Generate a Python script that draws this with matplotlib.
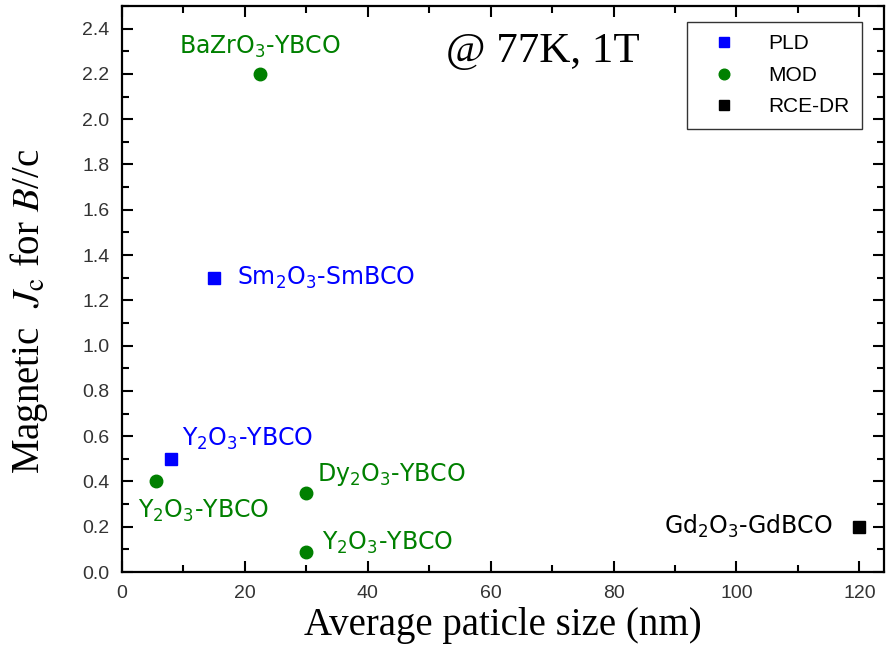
import matplotlib
matplotlib.use('Agg')
import matplotlib.pyplot as plt
from matplotlib.ticker import MultipleLocator

# data
pld_x = [8, 15]
pld_y = [0.5, 1.3]
mod_x = [5.5, 22.5, 30, 30]
mod_y = [0.40, 2.20, 0.35, 0.09]
rce_x = [120]
rce_y = [0.20]

# (text, x, y, ha, colour)
labels = [
    (r'BaZrO$\mathregular{_3}$-YBCO', 22.5, 2.32, 'center', 'green'),
    (r'Sm$\mathregular{_2}$O$\mathregular{_3}$-SmBCO', 18.7, 1.30, 'left', 'blue'),
    (r'Y$\mathregular{_2}$O$\mathregular{_3}$-YBCO', 9.8, 0.59, 'left', 'blue'),
    (r'Y$\mathregular{_2}$O$\mathregular{_3}$-YBCO', 2.6, 0.27, 'left', 'green'),
    (r'Dy$\mathregular{_2}$O$\mathregular{_3}$-YBCO', 31.7, 0.43, 'left', 'green'),
    (r'Y$\mathregular{_2}$O$\mathregular{_3}$-YBCO', 32.5, 0.13, 'left', 'green'),
    (r'Gd$\mathregular{_2}$O$\mathregular{_3}$-GdBCO', 115.6, 0.20, 'right', 'black'),
]

plt.rcParams['mathtext.fontset'] = 'stix'
plt.rcParams['font.family'] = 'Liberation Sans'

fig = plt.figure(figsize=(8.86, 6.68), dpi=100)
ax = fig.add_axes([0.1377, 0.1437, 0.8600, 0.8473])

ax.plot(pld_x, pld_y, 's', color='blue', ms=9, label='PLD')
ax.plot(mod_x, mod_y, 'o', color='green', ms=9, label='MOD')
ax.plot(rce_x, rce_y, 's', color='black', ms=8, label='RCE-DR')

for txt, x, y, ha, c in labels:
    ax.text(x, y, txt, ha=ha, va='center', color=c, fontsize=17,
            family='DejaVu Sans')

ax.text(52.8, 2.30, '@ 77K, 1T', fontsize=31, family='Liberation Serif',
        va='center', ha='left')

ax.set_xlim(0, 124)
ax.set_ylim(0, 2.5)
ax.xaxis.set_major_locator(MultipleLocator(20))
ax.xaxis.set_minor_locator(MultipleLocator(10))
ax.set_yticks([0.0, 0.2, 0.4, 0.6, 0.8, 1.0, 1.2, 1.4, 1.6, 1.8, 2.0, 2.2, 2.4])
ax.set_yticklabels(['%.1f' % v for v in ax.get_yticks()])
ax.yaxis.set_minor_locator(MultipleLocator(0.1))

ax.tick_params(which='both', direction='in', top=True, right=True,
               width=1.5, labelsize=14, labelcolor='#333333')
ax.tick_params(which='major', length=8, pad=9)
ax.tick_params(which='minor', length=5)
for s in ax.spines.values():
    s.set_linewidth(1.6)

ax.set_xlabel('Average paticle size (nm)', fontsize=28,
              family='Liberation Serif', labelpad=4)
ax.set_ylabel(r'Magnetic  $J_{\mathrm{c}}$ for $B$//c', fontsize=28,
              family='Liberation Serif')
ax.yaxis.set_label_coords(-0.094, 0.46)

leg = ax.legend(loc='upper right', fontsize=15, frameon=True, fancybox=False,
                edgecolor='black', bbox_to_anchor=(0.971, 0.972),
                borderaxespad=0.0, handletextpad=0.9, labelspacing=0.6,
                markerscale=0.85, borderpad=0.6, handlelength=2.4)
leg.get_frame().set_linewidth(1.0)

fig.savefig('out.png', dpi=100)
